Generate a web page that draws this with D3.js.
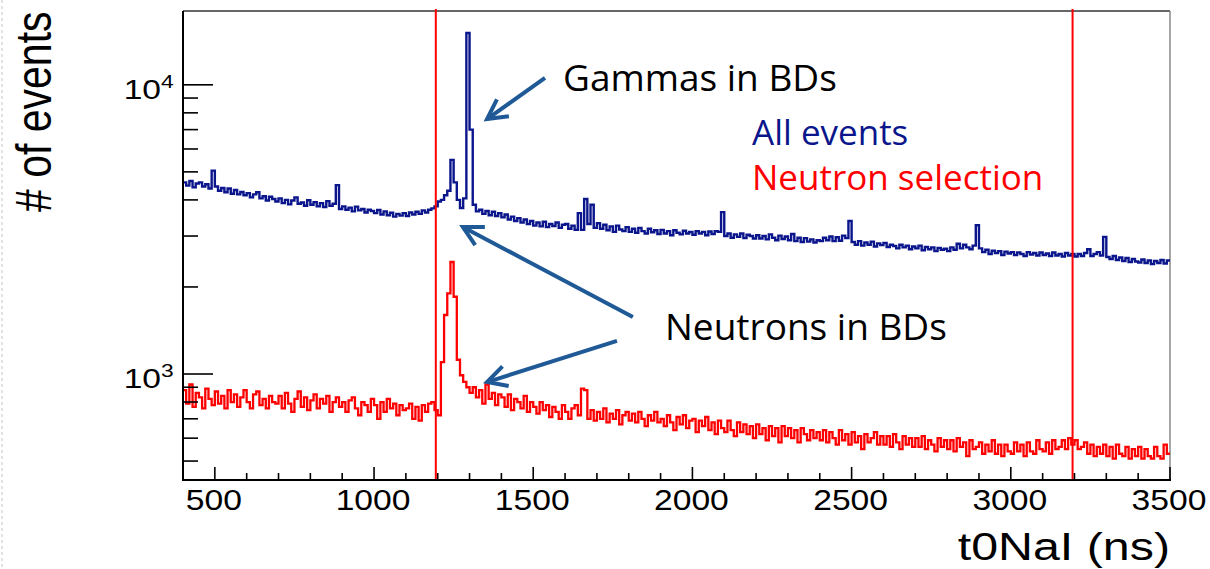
<!DOCTYPE html>
<html><head><meta charset="utf-8">
<script src="https://cdn.jsdelivr.net/npm/d3@7/dist/d3.min.js"></script>
<style>html,body{margin:0;padding:0;background:#fff;overflow:hidden}</style>
</head><body>
<svg id="c" width="1210" height="569"></svg>
<script>
// ---- data ----
const binStart = 400, binWidth = 10;          // ns
const xDomain = [400, 3500];
const yDomain = [430, 18000];
const xMajorTicks = [500, 1000, 1500, 2000, 2500, 3000, 3500];
const xTickLabels = ["500", "1000", "1500", "2000", "2500", "3000", "3500"];
const yMajorTicks = [1000, 10000];
const yTickLabels = [["10", "3"], ["10", "4"]];
const cutLines = [1194, 3194];
const xTitle = "t0NaI (ns)";
const yTitle = "# of events";
const seriesNames = ["All events", "Neutron selection"];

const allEvents = [
 4600,4480,4650,4420,4560,4600,4450,4530,4380,5050,
 4450,4300,4400,4250,4380,4200,4330,4180,4260,4150,
 4220,4080,4180,4250,4050,4120,3980,4100,4030,3950,
 4050,3900,4000,3860,3980,4080,3880,3920,3820,3990,
 3850,3930,3800,3900,3780,3960,3820,3880,4500,3720,
 3800,3700,3760,3650,3790,3680,3720,3620,3700,3660,
 3600,3690,3560,3650,3540,3610,3500,3580,3530,3600,
 3520,3620,3560,3640,3580,3680,3620,3700,3740,3800,
 3950,4000,4150,4300,5500,4600,4000,3750,4050,15100,
 7000,3850,3650,3700,3580,3660,3540,3640,3520,3600,
 3480,3560,3420,3500,3380,3460,3340,3420,3300,3380,
 3260,3340,3240,3360,3220,3300,3250,3340,3200,3280,
 3300,3180,3260,3150,3600,3150,4030,3300,3850,3200,
 3320,3180,3280,3140,3240,3100,3260,3160,3120,3220,
 3100,3180,3080,3200,3120,3060,3180,3090,3140,3050,
 3150,3060,3120,3020,3140,3080,3040,3130,3060,3100,
 3030,3120,3060,3100,3020,3110,3050,3120,3100,3630,
 3000,3060,2960,3040,2980,3060,2950,3030,3000,2940,
 3020,2940,3000,2920,3040,2960,2900,3010,2930,2990,
 2900,3050,2880,2960,2860,2950,2870,2920,2850,2900,
 2880,2960,2900,2990,2880,2970,2890,3010,2950,3380,
 2860,2800,2880,2780,2850,2800,2870,2760,2830,2790,
 2840,2750,2800,2770,2720,2800,2740,2780,2700,2760,
 2720,2780,2680,2750,2700,2740,2660,2730,2690,2710,
 2660,2740,2690,2820,2720,2800,2740,2700,2780,3270,
 2720,2640,2690,2600,2670,2620,2660,2580,2650,2610,
 2640,2580,2630,2600,2560,2640,2590,2620,2570,2630,
 2580,2610,2560,2630,2570,2600,2550,2620,2570,2600,
 2550,2600,2560,2620,2700,2560,2600,2640,2570,2980,
 2540,2500,2560,2480,2530,2460,2520,2440,2500,2450,
 2430,2490,2420,2470,2400,2460,2420,2480,2410,2470
];

const neutronSel = [
 880,790,920,770,860,830,760,890,820,780,
 870,790,840,760,880,800,850,770,830,880,
 800,760,850,870,780,820,760,840,800,790,
 840,760,860,790,740,820,870,770,830,750,
 810,850,760,820,790,840,740,800,830,770,
 800,740,810,830,760,720,800,780,740,820,
 780,700,800,740,820,760,790,720,780,750,
 760,790,700,770,690,780,740,790,800,750,
 720,1100,1600,1900,2440,1850,1120,990,940,900,
 860,900,830,880,790,920,820,860,780,850,
 830,770,850,750,820,800,760,840,740,800,
 770,730,800,750,780,710,770,740,700,780,
 740,700,760,780,720,890,880,700,750,690,
 740,700,760,680,730,700,750,670,720,740,
 690,730,680,740,700,660,720,690,740,680,
 700,660,720,680,640,710,670,720,650,690,
 700,630,690,660,710,640,680,620,690,650,
 630,690,640,610,680,630,670,620,660,600,
 670,620,650,590,660,610,650,580,660,610,
 650,600,640,580,650,620,590,640,600,630,
 590,640,580,630,600,570,640,590,620,570,
 630,580,610,550,620,580,600,630,570,610,
 570,610,560,620,580,550,610,570,600,560,
 600,560,610,550,590,570,540,600,560,590,
 550,590,540,600,560,580,520,590,550,560,
 580,530,570,540,590,530,570,520,570,540,
 530,580,540,570,520,580,540,530,590,550,
 540,580,530,590,550,560,590,550,600,570,
 590,550,560,580,530,570,520,560,530,570,
 520,560,510,570,530,520,560,510,550,520,
 560,510,550,520,510,560,520,510,570,530
];

// annotation arrows (tail / tip in data units)
const arrows = [
 {x1: 1537, y1: 10560, x2: 1355, y2: 7615},
 {x1: 1813, y1: 1575, x2: 1279, y2: 3224},
 {x1: 1763, y1: 1301, x2: 1355, y2: 938}
];

// ---- layout ----
const F = {left: 183, right: 1170, top: 11, bottom: 480};
const svg = d3.select("#c");
const x = d3.scaleLinear().domain(xDomain).range([F.left, F.right]);
const y = d3.scaleLog().domain(yDomain).range([F.bottom, F.top]);

const blue = "#0b168c", red = "#ff0000", arrowCol = "#1f5a96";
const rootFont = "'Liberation Sans', Arial, Helvetica, sans-serif";
const noteFont = "'Open Sans', sans-serif";

// left faint dashed border
svg.append("line").attr("x1", 2).attr("x2", 2).attr("y1", 0).attr("y2", 569)
  .attr("stroke", "#e2e2e2").attr("stroke-width", 2).attr("stroke-dasharray", "3,3");

svg.append("clipPath").attr("id", "clip").append("rect")
  .attr("x", F.left).attr("y", F.top).attr("width", F.right - F.left).attr("height", F.bottom - F.top);

// frame top & right
svg.append("line").attr("x1", F.left).attr("x2", F.right).attr("y1", F.top).attr("y2", F.top)
  .attr("stroke", "#333").attr("stroke-width", 1.5);
svg.append("line").attr("x1", F.right).attr("x2", F.right).attr("y1", F.top).attr("y2", F.bottom)
  .attr("stroke", "#888").attr("stroke-width", 1.5);

// histograms
function stepPath(vals) {
  const pts = vals.map((v, i) => [binStart + i * binWidth, v]);
  pts.push([binStart + vals.length * binWidth, vals[vals.length - 1]]);
  return d3.line().x(d => x(d[0])).y(d => y(d[1])).curve(d3.curveStepAfter)(pts);
}
const gH = svg.append("g").attr("clip-path", "url(#clip)");
gH.append("path").attr("d", stepPath(neutronSel)).attr("fill", "none")
  .attr("stroke", red).attr("stroke-width", 2.3);
gH.append("path").attr("d", stepPath(allEvents)).attr("fill", "none")
  .attr("stroke", blue).attr("stroke-width", 2.4);

// cut lines
cutLines.forEach(c => {
  svg.append("line").attr("x1", x(c)).attr("x2", x(c)).attr("y1", F.top - 2).attr("y2", F.bottom)
    .attr("stroke", red).attr("stroke-width", 2);
});

// axes lines
svg.append("line").attr("x1", F.left).attr("x2", F.left).attr("y1", F.top).attr("y2", F.bottom + 1)
  .attr("stroke", "#000").attr("stroke-width", 2);
svg.append("line").attr("x1", F.left).attr("x2", F.right + 1).attr("y1", F.bottom).attr("y2", F.bottom)
  .attr("stroke", "#000").attr("stroke-width", 2);

// x ticks
const xMinor = d3.range(500, 3501, 100);
xMinor.forEach(t => {
  const major = xMajorTicks.includes(t);
  svg.append("line").attr("x1", x(t)).attr("x2", x(t)).attr("y1", F.bottom)
    .attr("y2", F.bottom - (major ? 13 : 7)).attr("stroke", "#000").attr("stroke-width", 1.6);
});
xMajorTicks.forEach((t, i) => {
  svg.append("g").attr("transform", `translate(${x(t) - 1},510) scale(1.16,1)`)
    .append("text").attr("text-anchor", "middle").attr("font-family", rootFont)
    .attr("font-size", 29).attr("fill", "#000").text(xTickLabels[i]);
});

// y ticks
const yMinorVals = [500, 600, 700, 800, 900, 2000, 3000, 4000, 5000, 6000, 7000, 8000, 9000];
yMinorVals.forEach(v => {
  svg.append("line").attr("x1", F.left).attr("x2", F.left + 15).attr("y1", y(v)).attr("y2", y(v))
    .attr("stroke", "#000").attr("stroke-width", 1.6);
});
yMajorTicks.forEach((v, i) => {
  svg.append("line").attr("x1", F.left).attr("x2", F.left + 30).attr("y1", y(v)).attr("y2", y(v))
    .attr("stroke", "#000").attr("stroke-width", 1.6);
  const g = svg.append("g").attr("transform", `translate(161,${y(v) + 14}) scale(1.2,1)`);
  g.append("text").attr("text-anchor", "end").attr("font-family", rootFont)
    .attr("font-size", 28).attr("fill", "#000").text(yTickLabels[i][0]);
  g.append("text").attr("x", 0).attr("y", -11).attr("text-anchor", "start").attr("font-family", rootFont)
    .attr("font-size", 19).attr("fill", "#000").text(yTickLabels[i][1]);
});

// axis titles
svg.append("g").attr("transform", "translate(1170,560) scale(1.24,1)")
  .append("text").attr("text-anchor", "end").attr("font-family", rootFont)
  .attr("font-size", 39).attr("fill", "#000").text(xTitle);
svg.append("g").attr("transform", "translate(51,212) scale(1.22,1) rotate(-90)")
  .append("text").attr("text-anchor", "start").attr("font-family", rootFont)
  .attr("font-size", 41).attr("fill", "#000").text(yTitle);

// legend-like labels
svg.append("text").attr("x", 752).attr("y", 145).attr("font-family", noteFont)
  .attr("font-size", 35).attr("fill", blue).text(seriesNames[0]);
svg.append("text").attr("x", 752).attr("y", 190).attr("font-family", noteFont)
  .attr("font-size", 35).attr("fill", red).text(seriesNames[1]);

// annotations
svg.append("text").attr("x", 563).attr("y", 91).attr("font-family", noteFont)
  .attr("font-size", 37).attr("fill", "#000").text("Gammas in BDs");
svg.append("text").attr("x", 665).attr("y", 340).attr("font-family", noteFont)
  .attr("font-size", 37).attr("fill", "#000").text("Neutrons in BDs");

arrows.forEach(a => {
  const X1 = x(a.x1), Y1 = y(a.y1), X2 = x(a.x2), Y2 = y(a.y2);
  svg.append("line").attr("x1", X1).attr("y1", Y1).attr("x2", X2).attr("y2", Y2)
    .attr("stroke", arrowCol).attr("stroke-width", 4).attr("stroke-linecap", "butt");
  const ang = Math.atan2(Y1 - Y2, X1 - X2), L = 22, h = 28 * Math.PI / 180;
  const p1 = [X2 + L * Math.cos(ang - h), Y2 + L * Math.sin(ang - h)];
  const p2 = [X2 + L * Math.cos(ang + h), Y2 + L * Math.sin(ang + h)];
  svg.append("path").attr("d", `M${p1[0]},${p1[1]}L${X2},${Y2}L${p2[0]},${p2[1]}`)
    .attr("fill", "none").attr("stroke", arrowCol).attr("stroke-width", 4)
    .attr("stroke-linejoin", "miter");
});
</script>
</body></html>
